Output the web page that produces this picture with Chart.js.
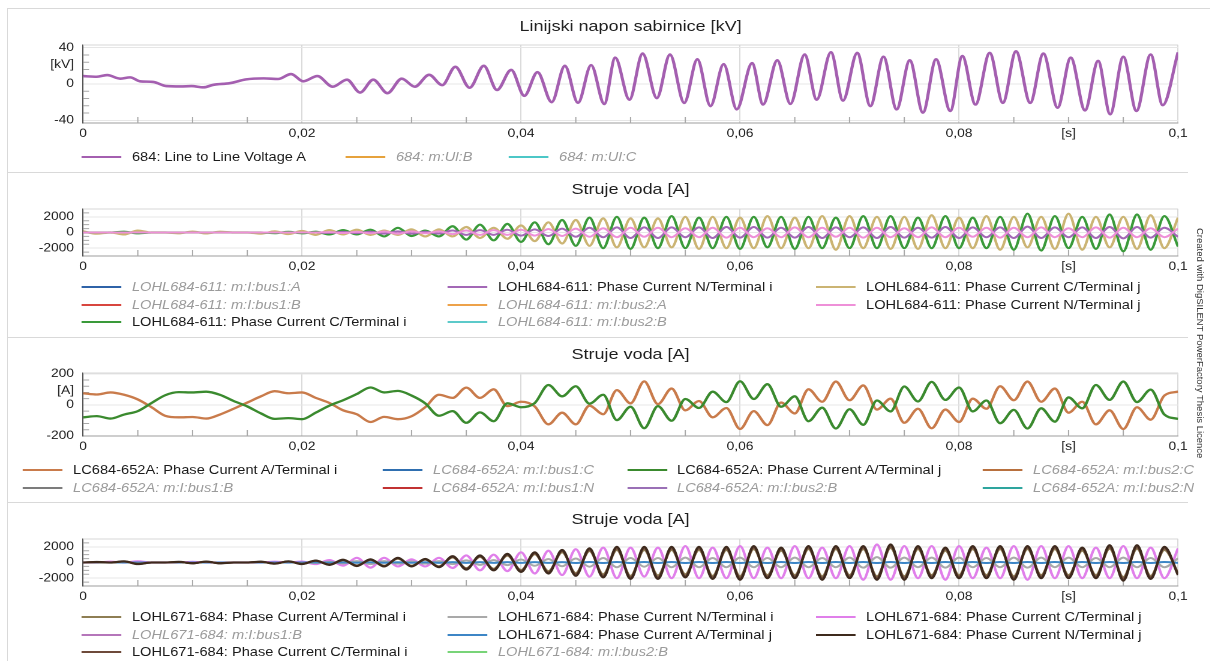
<!DOCTYPE html>
<html lang="hr">
<head>
<meta charset="utf-8">
<title>Linijski napon sabirnice i struje voda</title>
<script src="https://cdn.jsdelivr.net/npm/chart.js@4.4.1/dist/chart.umd.min.js"></script>
<style>
  html, body { margin:0; padding:0; background:#fff; }
  body { width:1210px; height:661px; overflow:hidden; position:relative; font-family:"Liberation Sans", Arial, sans-serif; }
  #stage { position:absolute; left:0; top:0; width:1009px; height:661px; transform:scaleX(1.2); transform-origin:0 0; }
  #stage canvas { position:absolute; left:0; }
  .lg { position:absolute; white-space:nowrap; height:16px; line-height:16px; font-size:12.2px; color:#1b1b1b; }
  .lg i.sw { position:absolute; left:0; top:7px; width:33px; height:2px; }
  .lg span { position:absolute; left:41.7px; top:0; }
  .lg.off span { color:#9b9b9b; font-style:italic; }
  .fl { position:absolute; background:#d9d9d9; }
  #credit { position:absolute; left:1195px; top:228px; writing-mode:vertical-rl; font-size:9.5px; line-height:10px; color:#333; white-space:nowrap; }
</style>
</head>
<body>
<div class="fl" style="left:7px;top:8px;width:1203px;height:1px"></div>
<div class="fl" style="left:7px;top:8px;width:1px;height:653px"></div>
<div class="fl" style="left:7px;top:172px;width:1181px;height:1px"></div>
<div class="fl" style="left:7px;top:337px;width:1181px;height:1px"></div>
<div class="fl" style="left:7px;top:502px;width:1181px;height:1px"></div>
<div id="stage">
  <canvas id="c1" width="1009" height="137" style="top:8px"></canvas>
  <canvas id="c2" width="1009" height="106" style="top:172px"></canvas>
  <canvas id="c3" width="1009" height="121" style="top:337px"></canvas>
  <canvas id="c4" width="1009" height="106" style="top:502px"></canvas>
</div>
<div id="credit">Created with DigSILENT PowerFactory Thesis Licence</div>
<script>
// ---------------- axis ticks ----------------
const xTickVals   = [0, 0.02, 0.04, 0.06, 0.08, 0.09, 0.1];
const xTickLabels = ['0', '0,02', '0,04', '0,06', '0,08', '[s]', '0,1'];
const xMinorVals  = [0.005, 0.01, 0.015, 0.025, 0.03, 0.035, 0.045, 0.05, 0.055, 0.065, 0.07, 0.075, 0.085, 0.09, 0.095];

const yMajorKV = [-40, 0, 40];
const yMinorKV = [-32, -24, -16, -8, 8, 16, 24, 32];
const yMajorA2 = [-2000, 0, 2000];
const yMinorA2 = [-2500, -1500, -1000, -500, 500, 1000, 1500, 2500];
const yMajorA3 = [-200, 0, 200];
const yMinorA3 = [-160, -120, -80, -40, 40, 80, 120, 160];

// ---------------- panel 1: line to line voltage [kV] ----------------
const tVolt = [0, 0.00125, 0.0022, 0.0034, 0.0043, 0.0052, 0.0064, 0.0076, 0.0089, 0.0099, 0.011, 0.0119, 0.0134, 0.0149, 0.0165, 0.0178, 0.019, 0.0201,
  0.0214, 0.0228, 0.0241, 0.0253, 0.0265, 0.0278, 0.0291, 0.0303, 0.0316, 0.0328, 0.034, 0.0353, 0.0366, 0.0378, 0.0391, 0.0403, 0.0415, 0.0428, 0.044, 0.0452, 0.0464, 0.0476,
  0.0486, 0.0499, 0.0511, 0.0524, 0.0536, 0.0549, 0.0561, 0.0573, 0.0585, 0.0597, 0.0611, 0.0621, 0.0634, 0.0646, 0.0659, 0.067, 0.0683, 0.0694, 0.0707, 0.0719, 0.0731,
  0.0743, 0.0755, 0.0767, 0.0779, 0.0792, 0.0803, 0.0815, 0.0828, 0.084, 0.0852, 0.0865, 0.0877, 0.089, 0.0902, 0.0915, 0.0927, 0.0938, 0.095, 0.0962, 0.0975, 0.0986, 0.1];
const uLineA = [8.7, 8, 9.8, 5.9, 7.3, 3, 2.3, -2.3, -2.7, -2.3, -3.7, -0.9, 0.9, 5.1, 6.2, 5.5, 11, 3,
  8.7, -3, 4.8, -9.4, 4.8, -10.1, 5.9, -3, 10.1, -1.2, 19, -4.1, 20, -6.6, 15.5, -13, 13, -20, 20, -20.8, 20.8, -22,
  29, -17.3, 33.6, -15.5, 32.5, -20.8, 27.2, -24.3, 21.9, -27.9, 22.9, -22.6, 26.1, -21.9, 32.5, -17.3, 35, -18.3, 34.3, -24.3, 30,
  -27.9, 26.1, -31.5, 27.2, -29.7, 30.8, -22.6, 34.3, -20.8, 36, -20.8, 33.6, -26.1, 29, -29, 25.4, -33.3, 30, -29.7, 32.5, -23.3, 35];

// ---------------- time points for current panels [s] ----------------
const tCur = [0, 0.00125, 0.0025, 0.00375, 0.005, 0.00625, 0.0075, 0.00875, 0.01, 0.01125, 0.0125, 0.01375, 0.015, 0.01625, 0.0175, 0.01875, 0.02,
  0.02125, 0.0225, 0.02375, 0.025, 0.02625, 0.0275, 0.02875, 0.03, 0.03125, 0.0325, 0.03375, 0.035, 0.03625, 0.0375, 0.03875, 0.04,
  0.04125, 0.0425, 0.04375, 0.045, 0.04625, 0.0475, 0.04875, 0.05, 0.05125, 0.0525, 0.05375, 0.055, 0.05625, 0.0575, 0.05875, 0.06,
  0.06125, 0.0625, 0.06375, 0.065, 0.06625, 0.0675, 0.06875, 0.07, 0.07125, 0.0725, 0.07375, 0.075, 0.07625, 0.0775, 0.07875, 0.08,
  0.08125, 0.0825, 0.08375, 0.085, 0.08625, 0.0875, 0.08875, 0.09, 0.09125, 0.0925, 0.09375, 0.095, 0.09625, 0.0975, 0.09875, 0.1];

// ---------------- panel 2: LOHL684-611 [A] ----------------
const i611_Ci = [0, 0, 0, 100, -100, 0, 0, 0, 0, 0, 0, 0, 0, 0, -80, 80, -100,
  100, -250, 300, -250, 350, -500, 600, -450, 250, -500, 800, -900, 1000, -1000, 1100, -1200,
  1300, -1500, 1600, -1700, 1900, -2000, 2000, -2100, 1900, -2000, 2100, -2000, 1900, -2000, 2000, -2100,
  2000, -1900, 2000, -2100, 2000, -2000, 1900, -2000, 2100, -2000, 2100, -2000, 1900, -2000, 2100, -2000,
  1900, -2000, 2000, -2200, 2400, -2300, 2100, -2000, 2000, -2100, 2300, -2400, 2300, -2200, 2100, -1800];
const i611_Cj = [150, -150, 0, -250, 250, 0, 0, -100, 120, -120, 100, 0, 0, -150, 150, -200, 200,
  -300, 300, -250, 350, -300, 250, -300, 400, -500, 400, -500, 700, -700, 600, -800, 900,
  -1100, 1300, -1400, 1600, -1700, 1800, -1900, 1800, -1900, 1800, -1900, 2000, -2100, 2000, -2000, 1900,
  -2000, 2100, -2000, 1900, -2000, 2100, -2200, 2100, -2000, 2000, -2100, 2000, -2100, 2200, -2000, 1900,
  -2000, 2100, -2200, 2000, -1900, 2000, -2100, 2400, -2200, 2000, -1900, 2000, -2100, 2200, -2000, 1900];
const i611_Ni = [0, 0, 0, 0, 0, 0, 0, 0, 0, 0, 0, 0, 0, 0, 0, 0, 0,
  0, -50, 80, -80, 100, -150, 150, -150, 100, -150, 250, -300, 300, -300, 350, -400,
  400, -450, 500, -550, 600, -600, 650, -700, 650, -700, 650, -600, 650, -700, 700, -650,
  700, -650, 600, -650, 700, -700, 650, -600, 650, -700, 700, -650, 600, -650, 700, -700,
  650, -600, 650, -700, 750, -700, 650, -600, 650, -700, 700, -750, 700, -650, 600, -550];
const i611_Nj = [0, 0, 0, 0, 0, 0, 0, 0, 0, 0, 0, 0, 0, 0, 0, 0, 0,
  0, 50, -70, 80, -100, 120, -150, 150, -100, 150, -200, 250, -300, 300, -300, 350,
  -400, 450, -450, 500, -550, 550, -600, 600, -550, 600, -600, 550, -600, 600, -650, 600,
  -600, 550, -600, 650, -600, 600, -550, 600, -650, 600, -600, 550, -600, 650, -600, 600,
  -550, 600, -650, 600, -600, 650, -600, 550, -600, 650, -650, 600, -600, 550, -600, 500];

// ---------------- panel 3: LC684-652A [A] ----------------
const i652_Ai = [75, 67, 80, 65, 35, -15, -70, -80, -78, -88, -62, -25, 15, 55, 88, 75, 80,
  45, 12, -35, -60, -110, -77, -92, -73, -15, 65, 45, 111, 45, 100, -8, 20,
  -10, -125, -50, -125, -5, -60, 95, 10, 151, 5, 105, -35, 25, -80, -20, -155,
  -40, -130, 15, -55, 100, 20, 150, 30, 125, -30, 40, -115, -25, -150, -30, -110,
  40, -25, 120, 30, 150, 20, 105, -50, 20, -125, -35, -155, -15, -95, 60, 85];
const i652_Aj = [-80, -72, -88, -62, -40, 12, 62, 82, 80, 85, 65, 25, -10, -55, -90, -85, -92,
  -50, -5, 30, 70, 112, 80, 90, 60, 10, -70, -40, -115, -48, -105, 10, -15,
  12, 128, 55, 120, 8, 65, -98, -12, -150, -8, -102, 38, -20, 85, 18, 152,
  38, 133, -12, 55, -105, -18, -152, -28, -128, 28, -42, 118, 22, 148, 32, 112,
  -42, 28, -118, -32, -152, -22, -108, 48, -22, 128, 32, 150, 18, 98, -62, -90];

// ---------------- panel 4: LOHL671-684 [A] ----------------
const i671_Nj = [0, 60, 0, 150, -200, 0, 0, 80, -100, 120, -100, 0, 0, 100, -150, 150, -200,
  250, -300, 350, -450, 400, -500, 600, -500, 450, -600, 800, -900, 900, -1000, 1100, -1200,
  1300, -1400, 1600, -1700, 1800, -1900, 2000, -2100, 2000, -2100, 2000, -1900, 2000, -2100, 2000, -2200,
  2100, -2000, 1900, -2000, 2100, -2200, 2100, -2000, 2100, -2200, 2300, -2200, 2100, -2000, 1900, -2000,
  2100, -2000, 2100, -2200, 2100, -2000, 2100, -2000, 1900, -2000, 2200, -2300, 2200, -2100, 2000, -1600];
const i671_Ai = [0, 40, 0, 120, -150, 0, 0, 60, -80, 90, -80, 0, 0, 80, -120, 120, -150,
  200, -240, 280, -360, 320, -400, 480, -400, 360, -480, 640, -720, 720, -800, 880, -960,
  1050, -1100, 1300, -1350, 1450, -1500, 1600, -1700, 1600, -1650, 1600, -1500, 1600, -1700, 1600, -1750,
  1700, -1600, 1500, -1600, 1700, -1750, 1700, -1600, 1700, -1750, 1850, -1750, 1700, -1600, 1500, -1600,
  1700, -1600, 1700, -1750, 1700, -1600, 1700, -1600, 1500, -1600, 1750, -1850, 1750, -1700, 1600, -1300];
const i671_Ci = [0, 50, 0, 130, -180, 0, 0, 70, -90, 100, -90, 0, 0, 90, -130, 130, -180,
  220, -270, 310, -400, 360, -450, 540, -450, 400, -540, 720, -800, 800, -900, 990, -1080,
  1170, -1250, 1450, -1500, 1600, -1700, 1800, -1900, 1800, -1900, 1800, -1700, 1800, -1900, 1800, -1950,
  1900, -1800, 1700, -1800, 1900, -1950, 1900, -1800, 1900, -1950, 2050, -1950, 1900, -1800, 1700, -1800,
  1900, -1800, 1900, -1950, 1900, -1800, 1900, -1800, 1700, -1800, 1950, -2050, 1950, -1900, 1800, -1450];
const i671_Cj = [0, 0, 100, 0, 150, 0, 0, 0, 80, 0, 0, 0, 0, 0, 100, 0, 120,
  -200, 300, -400, 600, -650, 600, -500, 400, -500, 600, -700, 900, -1000, 1000, -1100, 1300,
  -1400, 1500, -1600, 1700, -1800, 1900, -2000, 1900, -1800, 1900, -2000, 2100, -2000, 1900, -2000, 2100,
  -2000, 1900, -2000, 2100, -2000, 1900, -2000, 2100, -2200, 2300, -2200, 2100, -2000, 2100, -2200, 2100,
  -2000, 1900, -2000, 2100, -2200, 2100, -2000, 2100, -2000, 1900, -2000, 2100, -2000, 1900, -2000, 1800];
const i671_Ni = [0, 0, 0, 0, 0, 0, 0, 0, 0, 0, 0, 0, 0, 0, 0, 0, 0,
  -60, 90, -120, 180, -200, 180, -150, 120, -150, 180, -210, 270, -300, 300, -330, 390,
  -420, 450, -480, 510, -540, 570, -600, 570, -540, 570, -600, 630, -600, 570, -600, 630,
  -600, 570, -600, 630, -600, 570, -600, 630, -660, 690, -660, 630, -600, 630, -660, 630,
  -600, 570, -600, 630, -660, 630, -600, 630, -600, 570, -600, 630, -600, 570, -600, 540];
const i671_Aj = [0, 0, 0, 0, 0, 0, 0, 0, 0, 0, 0, 0, 0, 0, 0, 0, 0,
  20, -20, 20, -30, 30, -30, 30, -30, 30, -40, 40, -40, 40, -40, 50, -50,
  50, -50, 50, -60, 60, -60, 60, -60, 60, -60, 60, -60, 60, -60, 60, -60,
  60, -60, 60, -60, 60, -60, 60, -60, 60, -60, 60, -60, 60, -60, 60, -60,
  60, -60, 60, -60, 60, -60, 60, -60, 60, -60, 60, -60, 60, -60, 60, -50];

// ---------------- helpers ----------------
const FONT = '"Liberation Sans", Arial, Helvetica, sans-serif';
const pts = (ts, vs) => ts.map((t, i) => ({ x: t, y: vs[i] }));

const decor = {
  id: 'decor',
  beforeDatasetsDraw(chart, args, opts) {
    const { ctx, chartArea: a, scales: { x, y } } = chart;
    ctx.save();
    ctx.lineWidth = 1;
    ctx.strokeStyle = '#d6d6d6';
    ctx.beginPath();
    ctx.moveTo(a.left, a.top); ctx.lineTo(a.right, a.top);
    ctx.stroke();
    ctx.strokeStyle = '#a8a8a8';
    ctx.beginPath();
    (opts.xMinor || []).forEach(v => { const px = x.getPixelForValue(v); ctx.moveTo(px, a.bottom); ctx.lineTo(px, a.bottom - 6); });
    (opts.yMinor || []).forEach(v => { const py = y.getPixelForValue(v); ctx.moveTo(a.left, py); ctx.lineTo(a.left + 5, py); });
    ctx.stroke();
    ctx.restore();
  }
};
Chart.register(decor);

function build(id, spec) {
  const yT = spec.yMajor.concat(spec.yUnit ? [spec.yUnit.value] : []).sort((a, b) => a - b);
  return new Chart(document.getElementById(id), {
    type: 'line',
    data: {
      datasets: spec.datasets.map(d => ({
        label: d.label,
        data: d.data ? pts(d.t || tCur, d.data) : [],
        borderColor: d.color, backgroundColor: d.color,
        borderWidth: d.width || 2.0, pointRadius: 0, fill: false,
        cubicInterpolationMode: 'monotone', order: (d.order !== undefined ? d.order : 10),
        shown: !!d.data
      }))
    },
    options: {
      responsive: false, animation: false, devicePixelRatio: 2, events: [],
      layout: { padding: { left: 0, right: 27.3, top: 0, bottom: 0 } },
      plugins: {
        legend: { display: false }, tooltip: { enabled: false },
        title: { display: true, text: spec.title, fullSize: false, color: '#1e1e1e',
          font: { family: FONT, size: 15, weight: 'normal', lineHeight: 1.2 },
          padding: { top: spec.tp, bottom: spec.tb } },
        decor: { xMinor: xMinorVals, yMinor: spec.yMinor }
      },
      scales: {
        x: {
          type: 'linear', min: 0, max: 0.1,
          afterBuildTicks: s => { s.ticks = xTickVals.map(v => ({ value: v })); },
          afterFit: s => { s.height = 22; },
          ticks: { autoSkip: false, maxRotation: 0, padding: 4, color: '#1e1e1e',
            font: { family: FONT, size: 11.5 }, callback: (v, i) => xTickLabels[i] },
          grid: { drawTicks: false, lineWidth: 1,
            color: c => (c.tick && c.tick.value > 0 && c.tick.value !== 0.09) ? '#d9d9d9' : 'rgba(0,0,0,0)' },
          border: { color: '#9c9c9c', width: 1 }
        },
        y: {
          type: 'linear', min: spec.yMin, max: spec.yMax,
          afterBuildTicks: s => { s.ticks = yT.map(v => ({ value: v })); },
          afterFit: s => { s.width = 69.2; },
          ticks: { autoSkip: false, padding: 7.5, color: '#1e1e1e', font: { family: FONT, size: 11.5 },
            callback: v => (spec.yUnit && v === spec.yUnit.value) ? spec.yUnit.text : String(v) },
          grid: { drawTicks: false, lineWidth: 1,
            color: c => (c.tick && spec.yMajor.includes(c.tick.value)) ? '#e6e6e6' : 'rgba(0,0,0,0)' },
          border: { color: '#4a4a4a', width: 1 }
        }
      }
    }
  });
}

function legend(chart, colsX, rowsY) {
  const stage = document.getElementById('stage');
  chart.data.datasets.forEach((d, i) => {
    const c = i % colsX.length, r = Math.floor(i / colsX.length);
    const el = document.createElement('div');
    el.className = 'lg' + (d.shown ? '' : ' off');
    el.style.left = colsX[c] + 'px';
    el.style.top = (rowsY[r] - 8) + 'px';
    const sw = document.createElement('i'); sw.className = 'sw'; sw.style.background = d.borderColor;
    const sp = document.createElement('span'); sp.textContent = d.label;
    el.append(sw, sp);
    stage.appendChild(el);
  });
}

// ---------------- charts ----------------
const ch1 = build('c1', {
  title: 'Linijski napon sabirnice [kV]', tp: 10, tb: 9,
  yMin: -43, yMax: 43, yMajor: yMajorKV, yMinor: yMinorKV, yUnit: { value: 21, text: '[kV]' },
  datasets: [
    { label: '684: Line to Line Voltage A', color: '#a45fb0', t: tVolt, data: uLineA, width: 2.6, order: 0 },
    { label: '684: m:Ul:B', color: '#e6a23c' },
    { label: '684: m:Ul:C', color: '#4cc7c7' }
  ]
});
legend(ch1, [68.3, 288.3, 424.2], [157]);

const ch2 = build('c2', {
  title: 'Struje voda [A]', tp: 9, tb: 10,
  yMin: -3000, yMax: 3000, yMajor: yMajorA2, yMinor: yMinorA2,
  datasets: [
    { label: 'LOHL684-611: m:I:bus1:A', color: '#2f63a8' },
    { label: 'LOHL684-611: Phase Current N/Terminal i', color: '#a368b6', data: i611_Ni, order: 1 },
    { label: 'LOHL684-611: Phase Current C/Terminal j', color: '#cbb473', data: i611_Cj, width: 2.2, order: 3 },
    { label: 'LOHL684-611: m:I:bus1:B', color: '#d8463f' },
    { label: 'LOHL684-611: m:I:bus2:A', color: '#eda24a' },
    { label: 'LOHL684-611: Phase Current N/Terminal j', color: '#ee90d8', data: i611_Nj, order: 0 },
    { label: 'LOHL684-611: Phase Current C/Terminal i', color: '#3a9a3a', data: i611_Ci, width: 2.2, order: 2 },
    { label: 'LOHL684-611: m:I:bus2:B', color: '#5ccaca' }
  ]
});
legend(ch2, [68.3, 373.3, 680], [287, 305, 322]);

const ch3 = build('c3', {
  title: 'Struje voda [A]', tp: 9, tb: 9,
  yMin: -200, yMax: 205, yMajor: yMajorA3, yMinor: yMinorA3, yUnit: { value: 89, text: '[A]' },
  datasets: [
    { label: 'LC684-652A: Phase Current A/Terminal i', color: '#c97b4b', data: i652_Ai, width: 2.3, order: 1 },
    { label: 'LC684-652A: m:I:bus1:C', color: '#2f6fb0' },
    { label: 'LC684-652A: Phase Current A/Terminal j', color: '#3a8a2e', data: i652_Aj, width: 2.3, order: 0 },
    { label: 'LC684-652A: m:I:bus2:C', color: '#b8703e' },
    { label: 'LC684-652A: m:I:bus1:B', color: '#7c7c7c' },
    { label: 'LC684-652A: m:I:bus1:N', color: '#c23232' },
    { label: 'LC684-652A: m:I:bus2:B', color: '#9a70b6' },
    { label: 'LC684-652A: m:I:bus2:N', color: '#2ea59e' }
  ]
});
legend(ch3, [19.2, 319.2, 522.5, 819.2], [470, 488]);

const ch4 = build('c4', {
  title: 'Struje voda [A]', tp: 9, tb: 10,
  yMin: -3000, yMax: 3000, yMajor: yMajorA2, yMinor: yMinorA2,
  datasets: [
    { label: 'LOHL671-684: Phase Current A/Terminal i', color: '#8e7e53', data: i671_Ai, order: 2 },
    { label: 'LOHL671-684: Phase Current N/Terminal i', color: '#a9a9a9', data: i671_Ni, order: 4 },
    { label: 'LOHL671-684: Phase Current C/Terminal j', color: '#e07fea', data: i671_Cj, width: 2.2, order: 5 },
    { label: 'LOHL671-684: m:I:bus1:B', color: '#b576ba' },
    { label: 'LOHL671-684: Phase Current A/Terminal j', color: '#3d86c6', data: i671_Aj, order: 3 },
    { label: 'LOHL671-684: Phase Current N/Terminal j', color: '#3e2a1d', data: i671_Nj, width: 2.2, order: 0 },
    { label: 'LOHL671-684: Phase Current C/Terminal i', color: '#6e4a3a', data: i671_Ci, order: 1 },
    { label: 'LOHL671-684: m:I:bus2:B', color: '#78d478' }
  ]
});
legend(ch4, [68.3, 373.3, 680], [617, 635, 652]);
</script>
</body>
</html>
